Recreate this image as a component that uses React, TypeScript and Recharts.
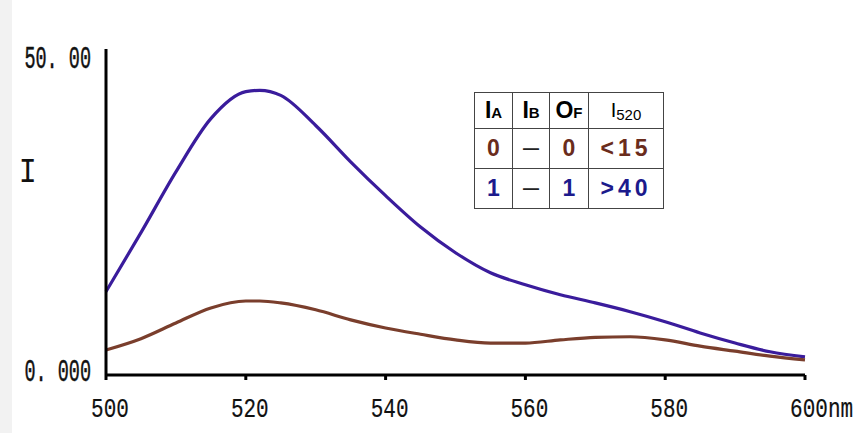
import { LineChart, Line, XAxis, YAxis } from "recharts";

const wavelengths = [500, 505, 510, 515, 520, 522, 525, 530, 535, 540, 545, 550, 555, 560, 565, 570, 575, 580, 585, 590, 595, 600];
const onSeries = [13.3, 22.7, 32.4, 40.9, 45.2, 45.4, 44.6, 39.8, 34.0, 28.6, 23.6, 19.5, 16.3, 14.4, 12.8, 11.5, 10.1, 8.5, 6.7, 5.1, 3.7, 2.9];
const offSeries = [4.0, 5.8, 8.3, 10.7, 11.8, 11.8, 11.5, 10.4, 8.8, 7.5, 6.5, 5.6, 5.1, 5.1, 5.6, 6.0, 6.1, 5.6, 4.6, 3.8, 3.0, 2.4];
const xTicks = [500, 520, 540, 560, 580, 600];
const yTicks = [0, 50];
const yTickLabels: Record<number, string> = { 0: "0. 000", 50: "50. 00" };

const BLUE = "#3a1c9c";
const BROWN = "#7a3e2c";
const NAVY = "#1c1a8c";
const DARK_BROWN = "#6a2c1c";
const AXIS_FONT = "'Liberation Mono', monospace";

const data = wavelengths.map((w, i) => ({ w, on: onSeries[i], off: offSeries[i] }));

const tableRows = [
  { a: "0", b: "—", f: "0", i: "<15", color: DARK_BROWN },
  { a: "1", b: "—", f: "1", i: ">40", color: NAVY },
];

function XTick({ x, y, payload }: any) {
  const v = payload.value;
  return (
    <g transform={`translate(${x + 4},${y + 35}) scale(1,1.35)`}>
      <text x={0} y={0} textAnchor="middle" fontFamily={AXIS_FONT} fontSize={21} fill="#111" stroke="#111" strokeWidth={0.15}>
        {v}
      </text>
      {v === 600 && (
        <text x={19} y={0} textAnchor="start" fontFamily={AXIS_FONT} fontSize={21} fill="#111" stroke="#111" strokeWidth={0.15}>
          nm
        </text>
      )}
    </g>
  );
}

function YTick({ y, payload }: any) {
  return (
    <g transform={`translate(91,${y + 6}) scale(1,1.7)`}>
      <text x={0} y={0} textAnchor="end" fontFamily={AXIS_FONT} fontSize={18.5} fill="#111" stroke="#111" strokeWidth={0.3}>
        {yTickLabels[payload.value]}
      </text>
    </g>
  );
}

const cell: React.CSSProperties = {
  border: "1px solid #444",
  textAlign: "center",
  padding: 0,
  fontFamily: "Arial, 'Liberation Sans', sans-serif",
  fontWeight: "bold",
};

export default function App() {
  return (
    <div style={{ position: "fixed", left: 0, top: 0, width: 865, height: 433, background: "#fff" }}>
      <div style={{ position: "absolute", left: 0, top: 0, width: 12, height: 433, background: "#f2f2f2" }} />
      <LineChart width={865} height={433} data={data} margin={{ top: 49, right: 60, bottom: 0, left: 0 }}>
        <XAxis
          dataKey="w"
          type="number"
          domain={[500, 600]}
          ticks={xTicks}
          height={58}
          stroke="#000"
          strokeWidth={3}
          tickSize={5}
          tick={<XTick />}
        />
        <YAxis
          type="number"
          domain={[0, 52]}
          ticks={yTicks}
          width={106}
          stroke="#000"
          strokeWidth={3}
          tickLine={false}
          tick={<YTick />}
        />
        <Line dataKey="on" type="monotone" stroke={BLUE} strokeWidth={3.2} dot={false} isAnimationActive={false} />
        <Line dataKey="off" type="monotone" stroke={BROWN} strokeWidth={3.2} dot={false} isAnimationActive={false} />
      </LineChart>
      <div
        style={{
          position: "absolute",
          left: 20,
          top: 158,
          fontFamily: AXIS_FONT,
          fontSize: 26,
          color: "#111",
          transform: "scale(1.15,1.35)",
          transformOrigin: "center",
        }}
      >
        I
      </div>
      <table
        style={{
          position: "absolute",
          left: 474,
          top: 92,
          width: 190,
          height: 115,
          borderCollapse: "collapse",
          border: "1.5px solid #333",
          background: "#fff",
        }}
      >
        <tbody>
          <tr style={{ height: 36 }}>
            <td style={{ ...cell, width: 37, fontSize: 23 }}>
              I<span style={{ fontSize: 15 }}>A</span>
            </td>
            <td style={{ ...cell, width: 36, fontSize: 23 }}>
              I<span style={{ fontSize: 15 }}>B</span>
            </td>
            <td style={{ ...cell, width: 38, fontSize: 23 }}>
              O<span style={{ fontSize: 15 }}>F</span>
            </td>
            <td style={{ ...cell, fontSize: 20, fontWeight: "normal" }}>
              I<span style={{ fontSize: 15, verticalAlign: "-3px" }}>520</span>
            </td>
          </tr>
          {tableRows.map((r) => (
            <tr key={r.a} style={{ height: 40 }}>
              <td style={{ ...cell, color: r.color, fontSize: 23 }}>{r.a}</td>
              <td style={{ ...cell, color: "#222", fontSize: 16 }}>{r.b}</td>
              <td style={{ ...cell, color: r.color, fontSize: 23 }}>{r.f}</td>
              <td style={{ ...cell, color: r.color, fontSize: 23, letterSpacing: 4 }}>{r.i}</td>
            </tr>
          ))}
        </tbody>
      </table>
    </div>
  );
}
